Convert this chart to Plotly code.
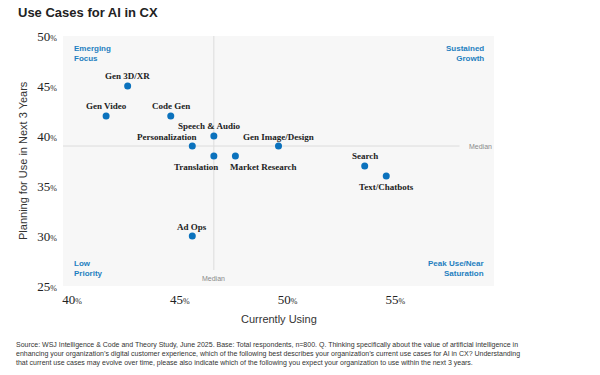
import plotly.graph_objects as go

# ---- data ----
use_cases = ["Gen 3D/XR", "Gen Video", "Code Gen", "Speech & Audio", "Personalization",
             "Translation", "Market Research", "Gen Image/Design", "Search",
             "Text/Chatbots", "Ad Ops"]
currently_using = [43, 42, 45, 47, 46, 47, 48, 50, 54, 55, 46]
planning_next_3 = [45, 42, 42, 40, 39, 38, 38, 39, 37, 36, 30]
median_current = 47
median_planning = 39
x_tick_vals = [40, 45, 50, 55]
y_tick_vals = [25, 30, 35, 40, 45, 50]
quadrants = ["Emerging<br>Focus", "Sustained<br>Growth", "Low<br>Priority", "Peak Use/Near<br>Saturation"]

# label offsets (pixels) per point: (xshift, yshift)
label_offsets = {
    "Gen 3D/XR": (0, 10), "Gen Video": (0, 10), "Code Gen": (0, 10),
    "Speech & Audio": (-4, 10), "Personalization": (-25, 9),
    "Translation": (-18, -11), "Market Research": (28, -11),
    "Gen Image/Design": (0, 9), "Search": (0, 10),
    "Text/Chatbots": (0, -11), "Ad Ops": (0, 9),
}

BLUE = "#0b72bd"
QBLUE = "#1f7fc0"
SERIF = "Liberation Serif, Times New Roman, serif"
SANS = "Liberation Sans, Arial, sans-serif"

W, H = 600, 375
L, R, T, B = 63, 106, 36, 89
PW, PH = W - L - R, H - T - B


def px_x(px):
    return (px - L) / PW


def px_y(py):
    return 1 - (py - T) / PH


fig = go.Figure()
fig.add_trace(go.Scatter(
    x=currently_using, y=planning_next_3, mode="markers",
    marker=dict(color=BLUE, size=7), hoverinfo="text", text=use_cases,
    showlegend=False,
))

# median lines
fig.add_shape(type="line", xref="x", yref="y", x0=40, x1=58.4, y0=median_planning, y1=median_planning,
              line=dict(color="#dcdcdc", width=1), layer="below")
fig.add_shape(type="line", xref="x", yref="y", x0=median_current, x1=median_current, y0=26.6, y1=50,
              line=dict(color="#dcdcdc", width=1), layer="below")

for name, xv, yv in zip(use_cases, currently_using, planning_next_3):
    dx, dy = label_offsets[name]
    fig.add_annotation(x=xv, y=yv, xref="x", yref="y", text="<b>%s</b>" % name,
                       showarrow=False, xshift=dx, yshift=dy, xanchor="center",
                       font=dict(family=SERIF, size=9, color="#222"))

fig.add_annotation(x=58.75, y=median_planning, xref="x", yref="y", text="Median",
                   xanchor="left", showarrow=False, font=dict(family=SANS, size=7, color="#8a8a8a"))
fig.add_annotation(x=median_current, y=25.8, xref="x", yref="y", text="Median", xanchor="center",
                   showarrow=False, font=dict(family=SANS, size=7, color="#8a8a8a"))

qpos = [(px_x(72), px_y(42), "left", "top"), (px_x(486), px_y(42), "right", "top"),
        (px_x(72), px_y(280), "left", "bottom"), (px_x(486), px_y(280), "right", "bottom")]
for q, (qx, qy, xa, ya) in zip(quadrants, qpos):
    fig.add_annotation(x=qx, y=qy, xref="paper", yref="paper", text="<b>%s</b>" % q,
                       xanchor=xa, yanchor=ya, align=xa, showarrow=False,
                       font=dict(family=SANS, size=8, color=QBLUE))

# title
fig.add_annotation(x=px_x(16), y=px_y(3), xref="paper", yref="paper", xanchor="left", yanchor="top",
                   text="<b>Use Cases for AI in CX</b>", showarrow=False,
                   font=dict(family=SANS, size=13, color="#222"))

# axis titles
fig.add_annotation(x=px_x(279), y=px_y(319), xref="paper", yref="paper", xanchor="center", yanchor="middle",
                   text="Currently Using", showarrow=False,
                   font=dict(family=SANS, size=11, color="#333"))
fig.add_annotation(x=px_x(23), y=px_y(161), xref="paper", yref="paper", xanchor="center", yanchor="middle",
                   text="Planning for Use in Next 3 Years", showarrow=False, textangle=-90,
                   font=dict(family=SANS, size=11, color="#333"))

source = ("Source: WSJ Intelligence & Code and Theory Study, June 2025. Base: Total respondents, n=800. Q. Thinking specifically about the value of artificial intelligence in<br>"
          "enhancing your organization\u2019s digital customer experience, which of the following best describes your organization\u2019s current use cases for AI in CX? Understanding<br>"
          "that current use cases may evolve over time, please also indicate which of the following you expect your organization to use within the next 3 years.")
fig.add_annotation(x=px_x(14), y=px_y(339), xref="paper", yref="paper",
                   xanchor="left", yanchor="top", align="left", text=source, showarrow=False,
                   font=dict(family=SANS, size=7, color="#333"))

fig.update_layout(
    width=W, height=H,
    margin=dict(l=L, r=R, t=T, b=B, autoexpand=False),
    paper_bgcolor="white", plot_bgcolor="#f7f7f7",
    showlegend=False,
    xaxis=dict(range=[40, 60], tickvals=x_tick_vals,
               ticktext=["%d<span style='font-size:8px'>%%</span>" % v for v in x_tick_vals],
               showgrid=False, zeroline=False, showline=False, ticks="", automargin=False,
               ticklabelshift=9, ticklabelstandoff=4,
               tickfont=dict(family=SERIF, size=13, color="#222")),
    yaxis=dict(range=[25, 50], tickvals=y_tick_vals,
               ticktext=["%d<span style='font-size:8px'>%%</span>" % v for v in y_tick_vals],
               showgrid=False, zeroline=False, showline=False, ticks="", automargin=False,
               ticklabelstandoff=5,
               tickfont=dict(family=SERIF, size=13, color="#222")),
)

fig.write_html("out.html", config={"displayModeBar": False},
               post_script="document.body.style.margin='0';document.body.style.overflow='hidden';")
